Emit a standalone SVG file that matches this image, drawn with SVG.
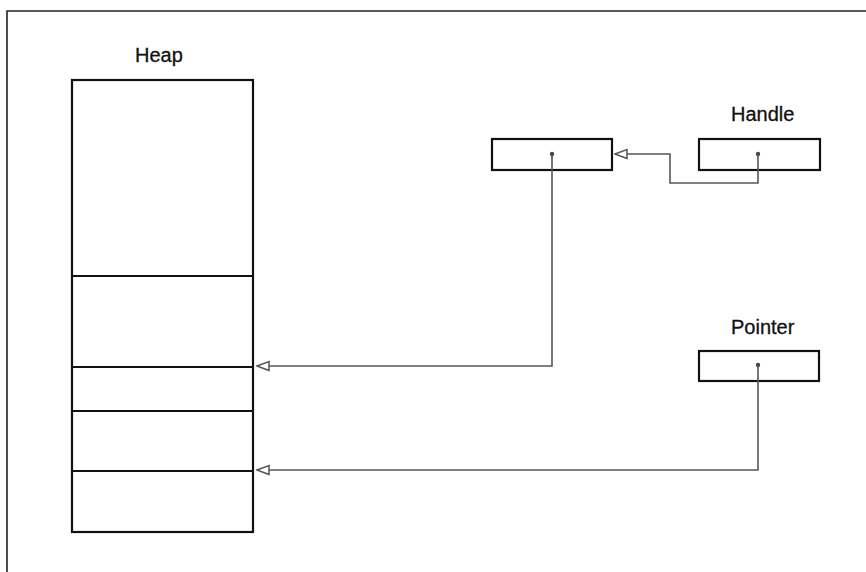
<svg xmlns="http://www.w3.org/2000/svg" width="866" height="572" viewBox="0 0 866 572">
<defs>
<style>
.box{fill:#fff;stroke:#111;stroke-width:2.2}
.div{stroke:#111;stroke-width:2.2}
.lbl{font-family:"Liberation Sans",Arial,sans-serif;font-size:20px;fill:#111;stroke:#111;stroke-width:0.3}
.conn{fill:none;stroke:#555;stroke-width:1.6}
.dot{fill:#444}
</style>
<marker id="arr" markerWidth="14" markerHeight="12" refX="13" refY="6" orient="auto" markerUnits="userSpaceOnUse">
<path d="M1,1.5 L13,6 L1,10.5 Z" fill="#fff" stroke="#555" stroke-width="1.5"/>
</marker>
</defs>
<rect width="866" height="572" fill="#fff"/>
<g id="frame">
<path d="M7,572 L7,11 L866,11" fill="none" stroke="#222" stroke-width="1.6"/>
</g>
<g id="heap">
<text class="lbl" x="135" y="62">Heap</text>
<rect class="box" x="72" y="80" width="181" height="452"/>
<line class="div" x1="72" y1="276" x2="253" y2="276"/>
<line class="div" x1="72" y1="367" x2="253" y2="367"/>
<line class="div" x1="72" y1="411" x2="253" y2="411"/>
<line class="div" x1="72" y1="471" x2="253" y2="471"/>
</g>
<g id="master">
<rect class="box" x="492" y="139" width="120" height="31"/>
<circle class="dot" cx="552" cy="154" r="2.2"/>
</g>
<g id="handle">
<text class="lbl" x="731" y="121">Handle</text>
<rect class="box" x="699" y="139" width="121" height="31"/>
<circle class="dot" cx="758" cy="154" r="2.2"/>
</g>
<g id="pointer">
<text class="lbl" x="731" y="334">Pointer</text>
<rect class="box" x="699" y="351" width="120" height="30"/>
<circle class="dot" cx="758" cy="365" r="2.2"/>
</g>
<g id="connectors">
<path class="conn" d="M758,154 L758,183 L670,183 L670,154 L615,154" marker-end="url(#arr)"/>
<path class="conn" d="M552,154 L552,366 L257,366" marker-end="url(#arr)"/>
<path class="conn" d="M758,365 L758,470 L257,470" marker-end="url(#arr)"/>
</g>
</svg>
